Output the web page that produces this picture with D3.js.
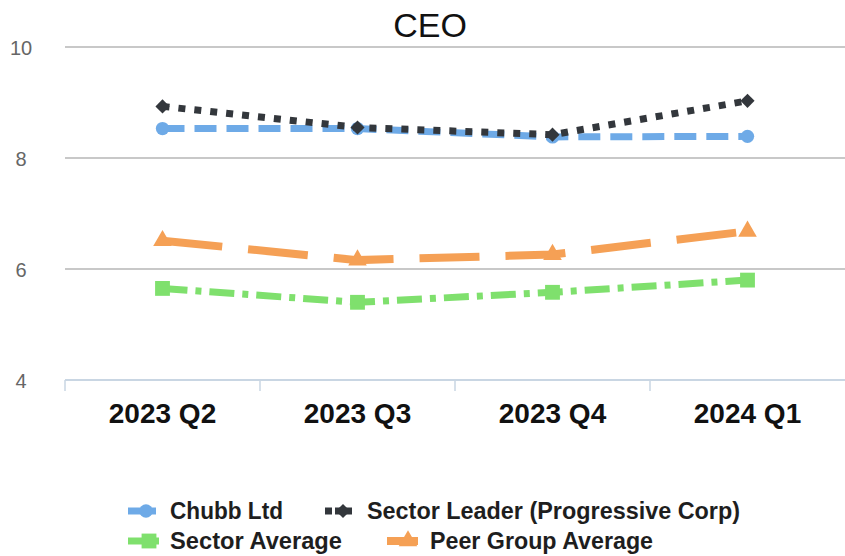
<!DOCTYPE html>
<html><head><meta charset="utf-8">
<script src="https://cdn.jsdelivr.net/npm/d3@7"></script>
<style>body{margin:0;background:#fff}svg{display:block}</style>
</head><body>
<script>
const categories = ["2023 Q2","2023 Q3","2023 Q4","2024 Q1"];
const chubb = [8.53, 8.53, 8.38, 8.39];
const leader = [8.93, 8.55, 8.42, 9.03];
const sectorAvg = [5.65, 5.40, 5.58, 5.80];
const peerAvg = [6.51, 6.16, 6.26, 6.68];
const yTicks = [4, 6, 8, 10];

const W = 845, H = 556;
const svg = d3.select("body").append("svg").attr("width", W).attr("height", H);
const font = "'Liberation Sans', Arial, sans-serif";

const x = d3.scaleBand().domain(categories).range([65, 845]);
const y = d3.scaleLinear().domain([4, 10]).range([380, 47]);

// gridlines
svg.append("g").selectAll("line").data(yTicks.filter(t => t > 4)).join("line")
  .attr("x1", 65).attr("x2", W).attr("y1", d => y(d)).attr("y2", d => y(d))
  .attr("stroke", "#c8c8c8").attr("stroke-width", 2);

// y labels
svg.append("g").selectAll("text").data(yTicks).join("text")
  .attr("x", 21).attr("y", d => y(d) + 8).attr("text-anchor", "middle")
  .attr("font-family", font).attr("font-size", 20).attr("fill", "#666")
  .text(d => d);

// x axis
const gx = svg.append("g").attr("transform", `translate(0,${y(4)})`)
  .call(d3.axisBottom(x).tickSize(0).tickFormat(""));
gx.select(".domain").attr("stroke", "#c9d6e3").attr("stroke-width", 2).attr("d", `M65,0H${W}`);
gx.selectAll(".tick").remove();
const edges = [65].concat(categories.slice(1).map(c => x(c)));
svg.append("g").selectAll("line").data(edges).join("line")
  .attr("x1", d => d).attr("x2", d => d).attr("y1", y(4)).attr("y2", y(4) + 11)
  .attr("stroke", "#c9d6e3").attr("stroke-width", 1.5);

svg.append("g").selectAll("text").data(categories).join("text")
  .attr("x", d => x(d) + x.bandwidth() / 2).attr("y", 423).attr("text-anchor", "middle")
  .attr("font-family", font).attr("font-weight", "bold")
  .attr("font-size", 28).attr("fill", "#111").text(d => d);

// title
svg.append("text").attr("x", 430).attr("y", 37).attr("text-anchor", "middle")
  .attr("font-family", font).attr("font-size", 34).attr("fill", "#111").text("CEO");

const cx = d => x(d) + x.bandwidth() / 2;
const line = d3.line().x((d, i) => cx(categories[i])).y(d => y(d));

const diamond = {draw(ctx, size) { const r = Math.sqrt(size / 2); ctx.moveTo(0, -r); ctx.lineTo(r, 0); ctx.lineTo(0, r); ctx.lineTo(-r, 0); ctx.closePath(); }};

const series = [
  {name: "Sector Average", data: sectorAvg, color: "#7fe06d", dash: "25,8,6,8", width: 7, sym: d3.symbolSquare, size: 220},
  {name: "Peer Group Average", data: peerAvg, color: "#f5a055", dash: "60,26", width: 8, sym: d3.symbolTriangle, size: 150},
  {name: "Chubb Ltd", data: chubb, color: "#6eaae7", dash: "22,10", width: 7, sym: d3.symbolCircle, size: 140},
  {name: "Sector Leader (Progressive Corp)", data: leader, color: "#33373c", dash: "7,9", width: 7, sym: diamond, size: 100}
];

series.forEach(s => {
  svg.append("path").datum(s.data).attr("d", line).attr("fill", "none")
    .attr("stroke", s.color).attr("stroke-width", s.width).attr("stroke-dasharray", s.dash);
  svg.append("g").selectAll("path").data(s.data).join("path")
    .attr("transform", (d, i) => `translate(${cx(categories[i])},${y(d)})`)
    .attr("d", d3.symbol().type(s.sym).size(s.size)).attr("fill", s.color);
});

// legend
const legend = [
  {s: series[2], lx: 128, ly: 511, mx: 146, tx: 170, tw: 113},
  {s: series[3], lx: 325, ly: 511, mx: 343, tx: 367, tw: 373},
  {s: series[0], lx: 128, ly: 541, mx: 149, tx: 170, tw: 172},
  {s: series[1], lx: 387, ly: 541, mx: 408, tx: 430, tw: 223}
];
legend.forEach(l => {
  svg.append("line").attr("x1", l.lx).attr("x2", l.mx + 10).attr("y1", l.ly).attr("y2", l.ly)
    .attr("stroke", l.s.color).attr("stroke-width", l.s.width)
    .attr("stroke-dasharray", l.s.sym === diamond ? "7,3" : null);
  svg.append("path").attr("transform", `translate(${l.mx},${l.ly})`)
    .attr("d", d3.symbol().type(l.s.sym).size(l.s.size)).attr("fill", l.s.color);
  svg.append("text").attr("x", l.tx).attr("y", l.ly + 8)
    .attr("font-family", font).attr("font-weight", "bold").attr("font-size", 23)
    .attr("textLength", l.tw).attr("lengthAdjust", "spacingAndGlyphs")
    .attr("fill", "#1e1e1e").text(l.s.name);
});
</script>
</body></html>
